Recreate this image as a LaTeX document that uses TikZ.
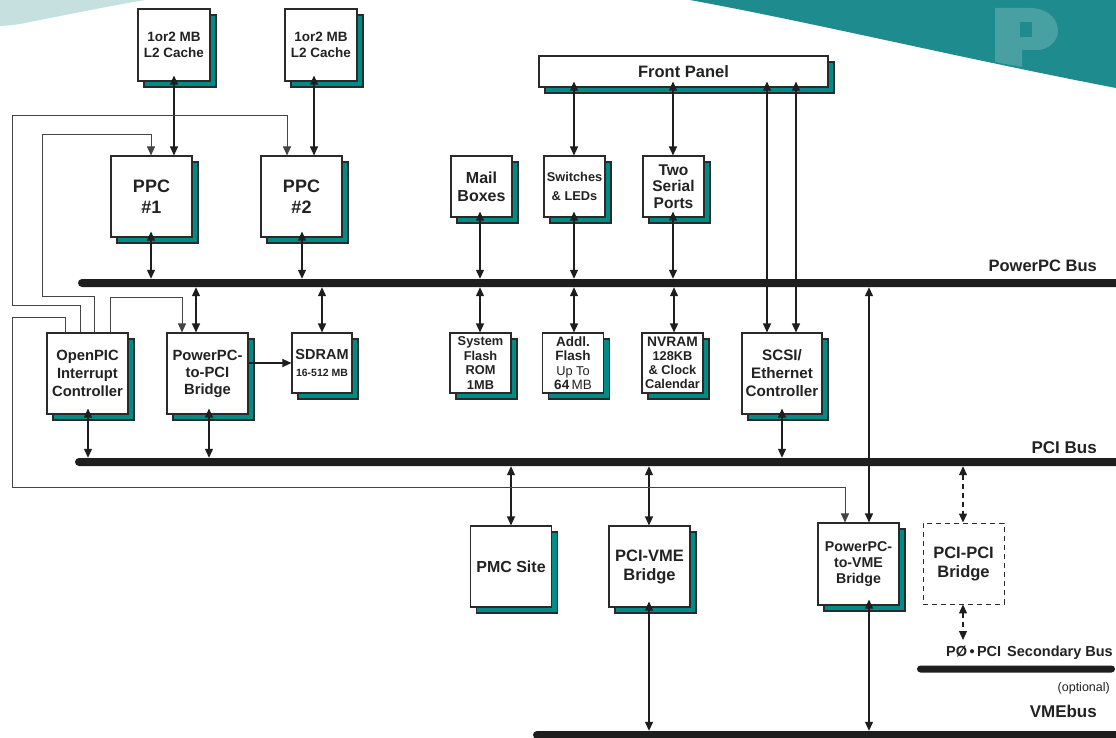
\documentclass[tikz,border=0pt]{standalone}
\usepackage{fontspec}
\setmainfont{Liberation Sans}
\usetikzlibrary{arrows.meta,shadows}
\definecolor{shteal}{HTML}{008B86}
\definecolor{bdr}{HTML}{2A2A2A}
\definecolor{lnc}{HTML}{1E1E1E}
\definecolor{intc}{HTML}{444444}
\definecolor{busc}{HTML}{1E1E1E}
\definecolor{txt}{HTML}{222222}
\definecolor{bgteal}{HTML}{1E8C8F}
\definecolor{bgteal2}{HTML}{48A0A2}
\definecolor{bgpale}{HTML}{C6DFDF}
\newcommand{\myfs}[2]{\fontsize{#1}{#2}\selectfont}
\tikzset{
  blk/.style={draw=bdr, line width=1.1pt, fill=white, inner sep=0pt, align=center, text=txt,
    general shadow={fill=shteal, draw=bdr, line width=1.1pt, shadow xshift=6pt, shadow yshift=-6pt}},
  sqA/.style={minimum width=81pt, minimum height=81pt},
  sqB/.style={minimum width=61pt, minimum height=61pt},
  sqC/.style={minimum width=61pt, minimum height=60pt},
  dbox/.style={draw=bdr, line width=0.9pt, dash pattern=on 5pt off 4pt, fill=white, inner sep=0pt,
    align=center, text=txt, minimum width=81pt, minimum height=81pt},
  busn/.style={fill=busc, rounded corners=4pt, inner sep=0pt, minimum height=8pt},
  con/.style={draw=lnc, line width=1.2pt},
  tipA/.tip={Triangle[length=9pt,width=8pt]},
  dar/.style={con, tipA-tipA},
  sar/.style={con, -tipA},
  ddar/.style={dar, dash pattern=on 5pt off 4pt},
  intl/.style={draw=intc, line width=1pt, -tipA},
  fsh/.style={shorten <=-6pt},
  lbl/.style={text=txt, inner sep=0pt, anchor=east},
}
\begin{document}
\begin{tikzpicture}[x=1pt, y=-1pt]
\useasboundingbox (0,0) rectangle (1116,738);
\clip (0,0) rectangle (1116,738);
\fill[white] (0,0) rectangle (1116,738);
% background decoration
\fill[bgpale] (0,0) -- (145,0) .. controls (110,6) and (70,14) .. (35,21) .. controls (15,25) .. (0,26) -- cycle;
\fill[bgteal] (690,0) .. controls (820,24) and (960,58) .. (1116,88) -- (1116,0) -- cycle;
\fill[bgteal2] (995,8) -- (1030,8) .. controls (1062,8) and (1068,44) .. (1040,50) -- (1022,50) -- (1022,67) -- (995,62) -- cycle;
\fill[bgteal] (1020,22) rectangle (1032,37);

% buses
\node[busn, minimum width=1052pt] (ppcbus) at (604,283) {};
\node[busn, minimum width=1055pt] (pcibus) at (602.5,462) {};
\node[busn, minimum width=198pt, minimum height=7pt, rounded corners=3.5pt] (secbus) at (1016,669) {};
\node[busn, minimum width=600pt] (vmebus) at (833,735) {};

% blocks
\node[blk, minimum width=72pt, minimum height=72pt, font=\bfseries\myfs{13.5}{16}] (L2a) at (174,45) {1or2 MB\\L2 Cache};
\node[blk, minimum width=72pt, minimum height=72pt, font=\bfseries\myfs{13.5}{16}] (L2b) at (321,45) {1or2 MB\\L2 Cache};
\node[blk, sqA, font=\bfseries\myfs{18}{20.5}] (PPC1) at (151.5,196.5) {PPC\\\#1};
\node[blk, sqA, font=\bfseries\myfs{18}{20.5}] (PPC2) at (301.5,196.5) {PPC\\\#2};
\node[blk, minimum width=289pt, minimum height=31pt, font=\bfseries\myfs{16.5}{18}] (FP) at (683.5,71.5) {Front Panel};
\node[blk, sqB, font=\bfseries\myfs{16}{18}] (Mail) at (481.5,186.5) {Mail\\Boxes};
\node[blk, sqB, font=\bfseries\myfs{12.8}{19}] (Sw) at (574.5,186.5) {Switches\\\& LEDs};
\node[blk, sqB, font=\bfseries\myfs{15.5}{16.5}] (Ser) at (673.5,186.5) {Two\\Serial\\Ports};
\node[blk, sqA, font=\bfseries\myfs{14.8}{18}] (PIC) at (87.5,373.5) {OpenPIC\\Interrupt\\Controller};
\node[blk, sqA, font=\bfseries\myfs{14.8}{17}] (PPB) at (207.5,373.5) {PowerPC-\\to-PCI\\Bridge};
\node[blk, minimum width=60pt, minimum height=60pt, font=\bfseries\myfs{14.5}{17}] (SDRAM) at (322,363) {SDRAM\\{\myfs{10.5}{12}16-512 MB}};
\node[blk, sqC, font=\bfseries\myfs{12.8}{14.5}] (SysF) at (480.5,363) {System\\Flash\\ROM\\1MB};
\node[blk, sqC, font=\bfseries\myfs{13.5}{14.5}] (AddF) at (573,363) {Addl.\\Flash\\{\mdseries\myfs{12.8}{14.5}Up To}\\64\,{\mdseries MB}};
\node[blk, sqC, font=\bfseries\myfs{12.8}{14}] (NVR) at (672.5,363) {{\myfs{13.8}{14}NVRAM}\\128KB\\\& Clock\\Calendar};
\node[blk, minimum width=80pt, minimum height=81pt, font=\bfseries\myfs{15.2}{18}] (SCSI) at (782,373.5) {SCSI/\\Ethernet\\Controller};
\node[blk, sqA, font=\bfseries\myfs{16}{18}] (PMC) at (511,566.5) {PMC Site};
\node[blk, sqA, font=\bfseries\myfs{16.5}{19}] (PCIVME) at (649.5,566.5) {PCI-VME\\Bridge};
\node[blk, minimum width=81pt, minimum height=82pt, font=\bfseries\myfs{14.2}{16}] (PtVME) at (858.5,564) {PowerPC-\\to-VME\\Bridge};
\node[dbox, font=\bfseries\myfs{16.5}{19}] (PCIPCI) at (963.5,563.5) {PCI-PCI\\Bridge};
\coordinate (secA) at (963,640);

% bus labels
\node[lbl, font=\bfseries\myfs{16.5}{18}] (lppc) at (1097,266) {PowerPC Bus};
\node[lbl, font=\bfseries\myfs{17}{18}] (lpci) at (1097,448) {PCI Bus};
\node[lbl, font=\bfseries\myfs{14.5}{18}] (lsec) at (1113,653) {PØ\,•\,PCI\hspace{6pt}Secondary Bus};
\node[lbl, font=\myfs{12.5}{14}] (lopt) at (1110,688) {(optional)};
\node[lbl, font=\bfseries\myfs{17}{18}] (lvme) at (1097,711) {VMEbus};

% connectors: upper
\draw[dar, fsh] (L2a.south -| 174,0) -- (PPC1.north -| 174,0);
\draw[dar, fsh] (L2b.south -| 314,0) -- (PPC2.north -| 314,0);
\draw[dar, fsh] (PPC1.south -| 151,0) -- (ppcbus.north -| 151,0);
\draw[dar, fsh] (PPC2.south -| 302,0) -- (ppcbus.north -| 302,0);
\draw[dar, fsh] (FP.south -| 574,0) -- (Sw.north -| 574,0);
\draw[dar, fsh] (FP.south -| 673,0) -- (Ser.north -| 673,0);
\draw[dar, fsh] (Mail.south -| 480,0) -- (ppcbus.north -| 480,0);
\draw[dar, fsh] (Sw.south -| 574,0) -- (ppcbus.north -| 574,0);
\draw[dar, fsh] (Ser.south -| 673,0) -- (ppcbus.north -| 673,0);
\draw[dar, fsh] (FP.south -| 767,0) -- (SCSI.north -| 767,0);
\draw[dar, fsh] (FP.south -| 796,0) -- (SCSI.north -| 796,0);

% PowerPC bus down
\draw[dar] (ppcbus.south -| 196,0) -- (PPB.north -| 196,0);
\draw[dar] (ppcbus.south -| 322,0) -- (SDRAM.north -| 322,0);
\draw[dar] (ppcbus.south -| 480,0) -- (SysF.north -| 480,0);
\draw[dar] (ppcbus.south -| 574,0) -- (AddF.north -| 574,0);
\draw[dar] (ppcbus.south -| 674,0) -- (NVR.north -| 674,0);
\draw[dar] (ppcbus.south -| 869,0) -- (PtVME.north -| 869,0);
\draw[sar] (PPB.east |- SDRAM.west) -- (SDRAM.west);

% PCI bus
\draw[dar, fsh] (PIC.south -| 88,0) -- (pcibus.north -| 88,0);
\draw[dar, fsh] (PPB.south -| 209,0) -- (pcibus.north -| 209,0);
\draw[dar, fsh] (SCSI.south -| 782,0) -- (pcibus.north -| 782,0);
\draw[dar] (pcibus.south -| 511,0) -- (PMC.north -| 511,0);
\draw[dar] (pcibus.south -| 649,0) -- (PCIVME.north -| 649,0);
\draw[ddar] (pcibus.south -| 963,0) -- (PCIPCI.north -| 963,0);
\draw[ddar] (PCIPCI.south -| 963,0) -- (secA);

% VME bus
\draw[dar, fsh] (PCIVME.south -| 649,0) -- (vmebus.north -| 649,0);
\draw[dar, fsh] (PtVME.south -| 869,0) -- (vmebus.north -| 869,0);

% interrupt lines
\draw[intl] ([xshift=-7.5pt]PIC.north) -- ++(0,-27) -| (12,116) -| (PPC2.north -| 287,0);
\draw[intl] ([xshift=6.5pt]PIC.north) -- ++(0,-36) -| (42,135) -| (PPC1.north -| 151,0);
\draw[intl] ([xshift=22.5pt]PIC.north) -- ++(0,-35) -| (PPB.north -| 182,0);
\draw[intl] ([xshift=-22.5pt]PIC.north) -- ++(0,-15) -| (12,487) -| (PtVME.north -| 845,0);
\end{tikzpicture}
\end{document}
